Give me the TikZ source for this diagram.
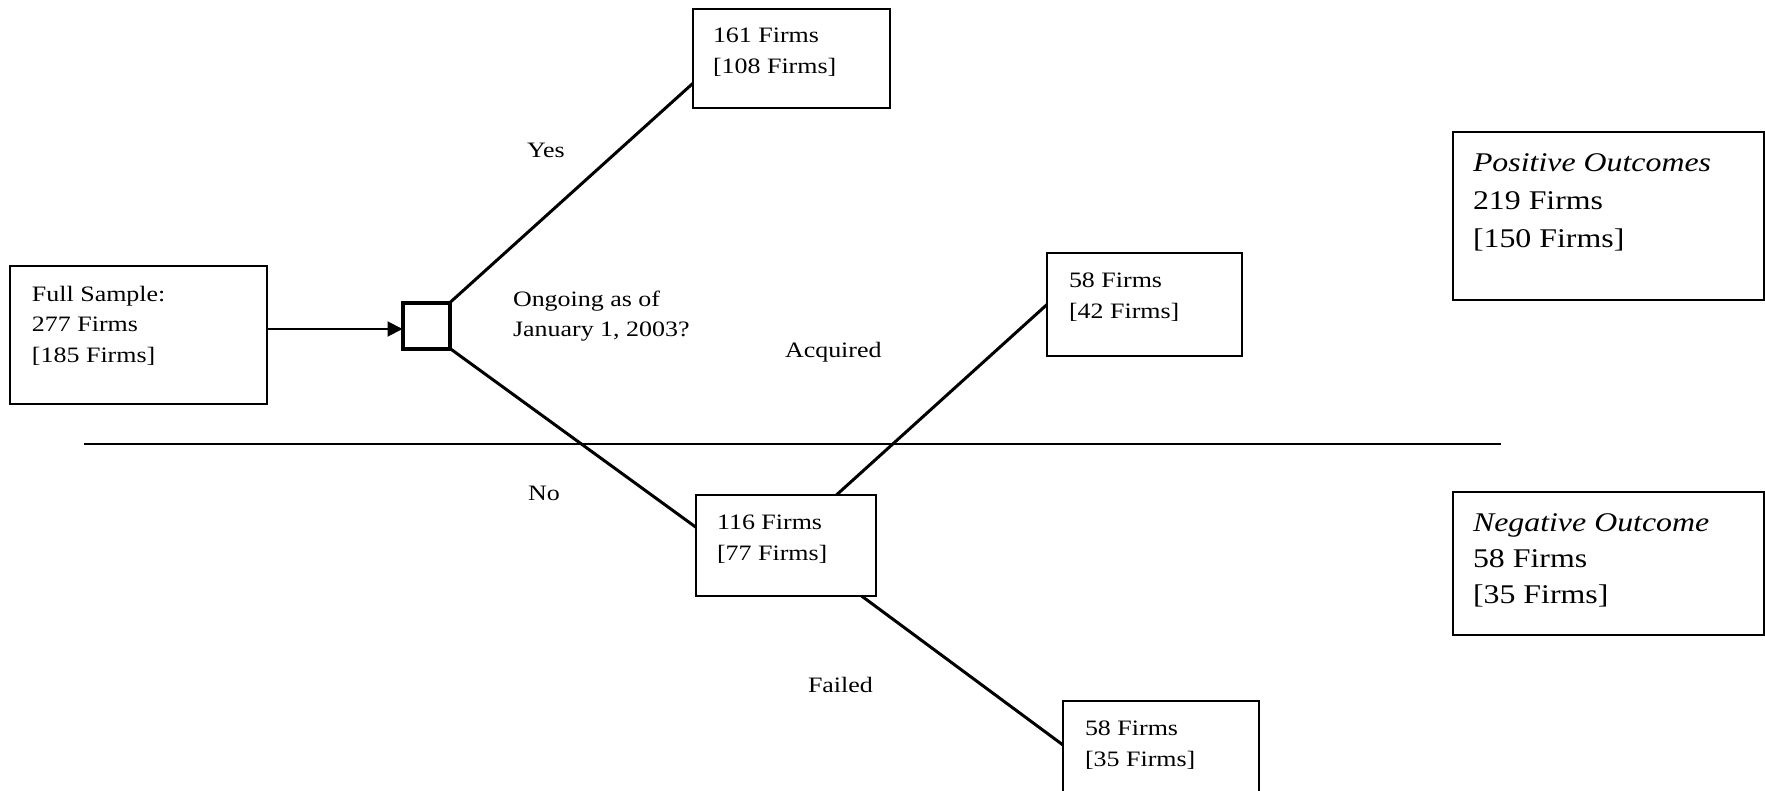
\documentclass[tikz,border=0pt]{standalone}
\usepackage{fontspec}
\setmainfont{Liberation Serif}
\usepackage{graphicx}
\usetikzlibrary{arrows.meta,calc}
\newcommand\smtxt[2][15.5]{\scalebox{1.18}[1]{\fontsize{11}{#1}\selectfont\begin{tabular}[t]{@{}l@{}}#2\end{tabular}}}
\newcommand\bgtxt[2]{\scalebox{1.18}[1]{\fontsize{13.5}{#1}\selectfont\begin{tabular}[t]{@{}l@{}}#2\end{tabular}}}
\begin{document}
\begin{tikzpicture}[x=0.5pt,y=-0.5pt,
  box/.style={draw, line width=1pt, rectangle, anchor=north west, inner sep=0pt, outer sep=0pt},
  decision/.style={draw, line width=2pt, rectangle, anchor=north west, inner sep=0pt, outer sep=0pt},
  txt/.style={anchor=base west, inner sep=0pt, outer sep=0pt},
  branch/.style={line width=1.5pt},
  arrowline/.style={line width=1pt, -{Triangle[length=7.5pt,width=7.5pt]}},
  divider/.style={line width=0.75pt}]
\useasboundingbox (0,0) rectangle (1765,791);
\fill[white] (0,0) rectangle (1765,791);
% boxes
\node[box, minimum width=128.5pt, minimum height=69pt] (full) at (10,266) {};
\node[decision, minimum width=23.75pt, minimum height=23pt] (sq) at (402.5,302.5) {};
\node[box, minimum width=98.5pt, minimum height=49.5pt] (top) at (693,9) {};
\node[box, minimum width=97.5pt, minimum height=51.5pt] (acq) at (1047,253) {};
\node[box, minimum width=90pt, minimum height=50.5pt] (mid) at (696,495) {};
\node[box, minimum width=98pt, minimum height=50pt] (fail) at (1063,701) {};
\node[box, minimum width=155.5pt, minimum height=84pt] (pos) at (1453,132) {};
\node[box, minimum width=155.5pt, minimum height=71.5pt] (neg) at (1453,492) {};
% box texts
\node[txt] (tfull) at (32,301.5) {\smtxt[15.2]{Full Sample:\\277 Firms\\{[}185 Firms{]}}};
\node[txt] (ttop) at (713,42.5) {\smtxt{161 Firms\\{[}108 Firms{]}}};
\node[txt] (tacq) at (1069,287) {\smtxt{58 Firms\\{[}42 Firms{]}}};
\node[txt] (tmid) at (717,529) {\smtxt{116 Firms\\{[}77 Firms{]}}};
\node[txt] (tfail) at (1085,735) {\smtxt{58 Firms\\{[}35 Firms{]}}};
\node[txt] (tpos) at (1473,171.5) {\bgtxt{18.9}{\textit{Positive Outcomes}\\219 Firms\\{[}150 Firms{]}}};
\node[txt] (tneg) at (1473,531.5) {\bgtxt{18}{\textit{Negative Outcome}\\58 Firms\\{[}35 Firms{]}}};
% labels
\node[txt] (lyes) at (527,157.5) {\smtxt{Yes}};
\node[txt] (lq) at (513,306) {\smtxt[15.2]{Ongoing as of\\January 1, 2003?}};
\node[txt] (lacq) at (785,357) {\smtxt{Acquired}};
\node[txt] (lno) at (528,500) {\smtxt{No}};
\node[txt] (lfail) at (808,692) {\smtxt{Failed}};
% connectors
\coordinate (sqin) at ($(sq.west)+(0,3.5)$);
\draw[arrowline] (full.east |- sqin) -- (sqin);
\draw[branch] (sq.north east) -- ($(top.south west)!0.25!(top.north west)$);
\draw[branch] (sq.south east) -- ($(mid.north west)!0.32!(mid.south west)$);
\draw[branch] ($(mid.north west)!0.78!(mid.north east)$) -- (acq.west);
\draw[branch] ($(mid.south west)!0.92!(mid.south east)$) -- ($(fail.north west)!0.44!(fail.south west)$);
% divider
\coordinate (d1) at (84,444);
\coordinate (d2) at (1501,444);
\draw[divider] (d1) -- (d2);
\end{tikzpicture}
\end{document}
